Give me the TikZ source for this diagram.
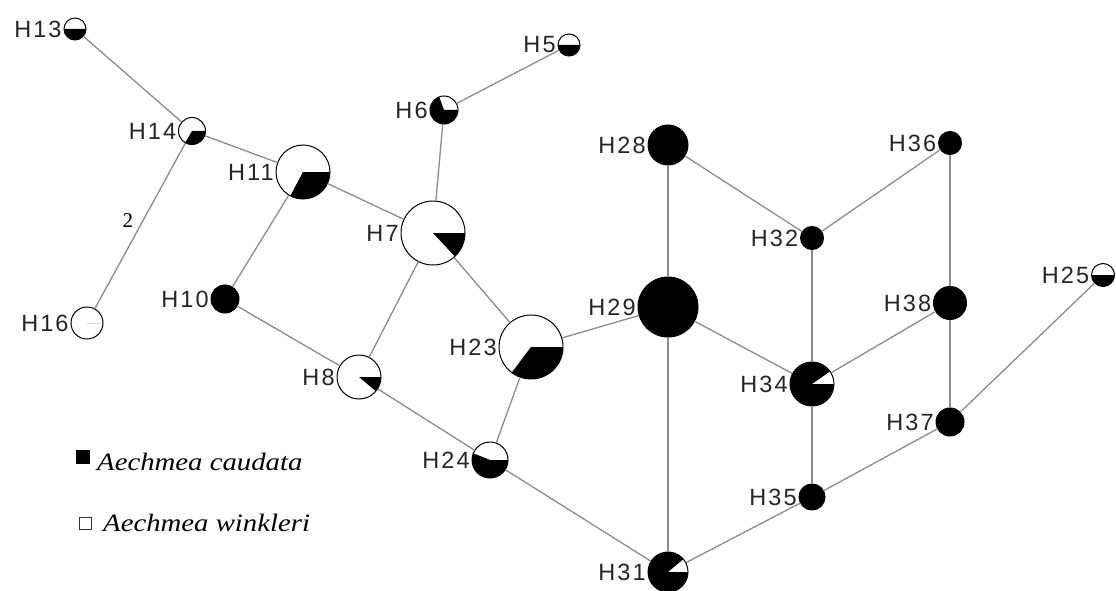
\documentclass[tikz,border=0pt]{standalone}
\usepackage{fontspec}
\setmainfont{Liberation Serif}
\newfontfamily\labfont[LetterSpace=9]{Liberation Sans}
\newfontfamily\legfont[FakeStretch=1.15]{Liberation Serif}
\begin{document}
\begin{tikzpicture}[x=1pt,y=-1pt,
  hap/.style={circle,inner sep=0pt,fill=white},
  lab/.style={font=\labfont\fontsize{23.5}{25}\selectfont,text=black!85,inner sep=1pt,label distance=1pt},
  edge/.style={draw=black!45,line width=1.3pt},
  outline/.style={draw=black,line width=1pt},
  legtext/.style={font=\legfont\fontsize{25}{27}\selectfont\itshape,anchor=base west,inner sep=0pt}]
\useasboundingbox (0,0) rectangle (1116,591);
\newcommand\hnode[7]{%
  \node[hap,minimum size=#4*2pt,label={[lab]left:#5}] (#1) at (#2,#3) {};
  \fill[black] (#1.center) -- ([shift={(#6:#4pt)}]#1.center) arc[start angle=#6,end angle=#7,radius=#4pt] -- cycle;
  \draw[outline] (#1.center) circle[radius=#4pt];
}
\hnode{H13}{75}{29}{11}{H13}{180}{360}
\hnode{H5}{569}{45}{11}{H5}{180}{360}
\hnode{H6}{444}{110}{14}{H6}{110}{360}
\hnode{H14}{192}{131}{13.5}{H14}{-120}{0}
\hnode{H11}{303}{172}{27}{H11}{-118}{0}
\hnode{H16}{87}{323}{16}{H16}{0}{0}
\hnode{H10}{225}{299}{14}{H10}{0}{360}
\hnode{H7}{433}{233}{32}{H7}{-47}{0}
\hnode{H8}{359}{377}{22}{H8}{-40}{0}
\hnode{H23}{531}{347}{32}{H23}{-127}{0}
\hnode{H24}{490}{460}{18}{H24}{158}{360}
\hnode{H28}{668}{145}{20}{H28}{0}{360}
\hnode{H29}{668}{307}{30}{H29}{0}{360}
\hnode{H31}{668}{572}{20}{H31}{40}{360}
\hnode{H32}{812}{238}{11.5}{H32}{0}{360}
\hnode{H34}{812}{384}{22}{H34}{35}{360}
\hnode{H35}{812}{497}{13}{H35}{0}{360}
\hnode{H36}{950}{143}{11.5}{H36}{0}{360}
\hnode{H38}{950}{303}{16.5}{H38}{0}{360}
\hnode{H37}{950}{422}{14}{H37}{0}{360}
\hnode{H25}{1103}{275}{11.5}{H25}{180}{360}
\draw[edge] (H13) -- (H14);
\draw[edge] (H14) -- (H11);
\draw[edge] (H14) -- node[pos=0.47,left=9pt,font=\fontsize{21}{23}\selectfont,inner sep=0pt] (lab2) {2} (H16);
\draw[edge] (H11) -- (H10);
\draw[edge] (H11) -- (H7);
\draw[edge] (H10) -- (H8);
\draw[edge] (H7) -- (H6);
\draw[edge] (H6) -- (H5);
\draw[edge] (H7) -- (H8);
\draw[edge] (H7) -- (H23);
\draw[edge] (H8) -- (H24);
\draw[edge] (H23) -- (H24);
\draw[edge] (H23) -- (H29);
\draw[edge] (H24) -- (H31);
\draw[edge] (H28) -- (H29);
\draw[edge] (H28) -- (H32);
\draw[edge] (H29) -- (H31);
\draw[edge] (H29) -- (H34);
\draw[edge] (H32) -- (H34);
\draw[edge] (H32) -- (H36);
\draw[edge] (H36) -- (H38);
\draw[edge] (H38) -- (H34);
\draw[edge] (H38) -- (H37);
\draw[edge] (H34) -- (H35);
\draw[edge] (H35) -- (H31);
\draw[edge] (H35) -- (H37);
\draw[edge] (H37) -- (H25);
% legend
\node[draw=black,fill=black,minimum size=13pt,inner sep=0pt] (sqA) at (83,457) {};
\node[legtext] (legA) at (97,470) {Aechmea caudata};
\node[draw=black!80,fill=white,line width=1pt,minimum size=12pt,inner sep=0pt] (sqB) at (85,523) {};
\node[legtext] (legB) at (103,531) {Aechmea winkleri};
\end{tikzpicture}
\end{document}
